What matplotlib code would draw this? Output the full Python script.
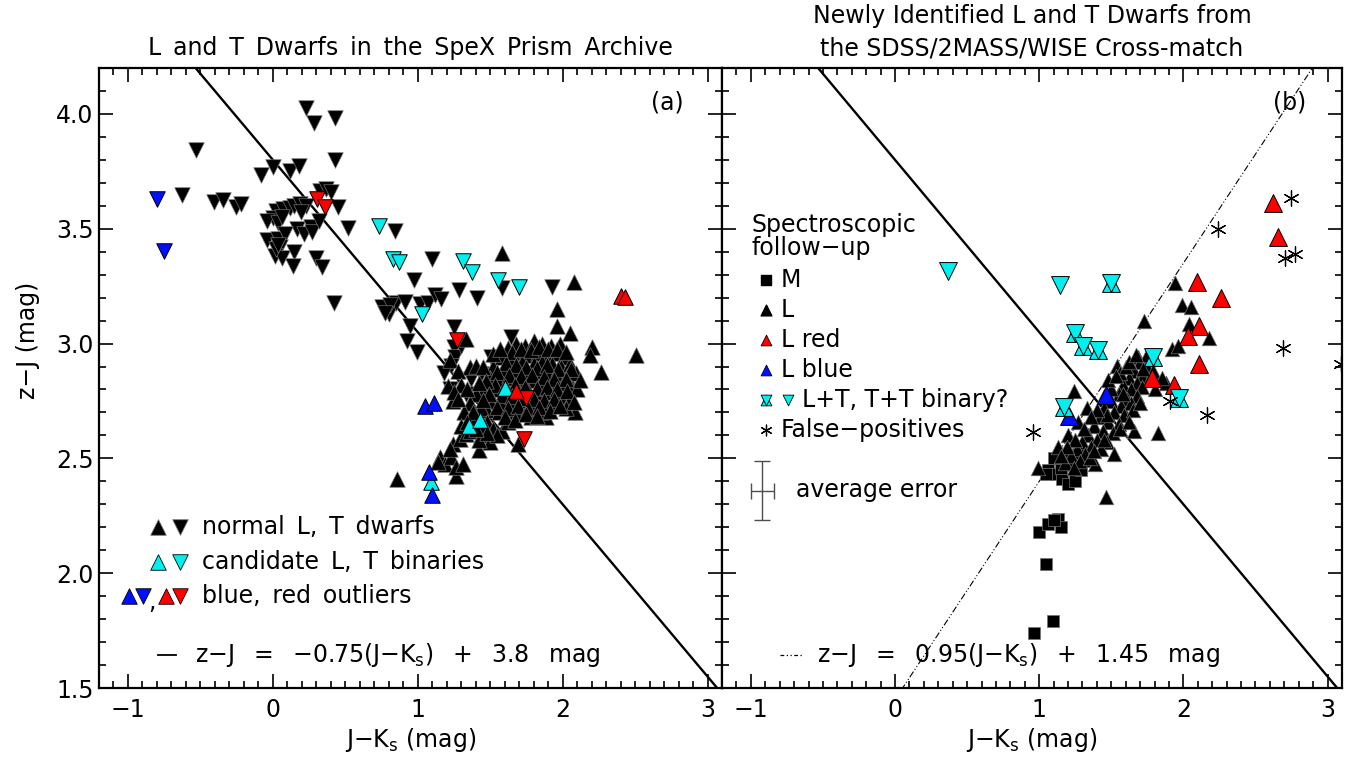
import numpy as np
import matplotlib
matplotlib.use("Agg")
import matplotlib.pyplot as plt
from matplotlib.ticker import MultipleLocator, FormatStrFormatter

plt.rcParams['font.family'] = ['DejaVu Sans']
plt.rcParams['axes.unicode_minus'] = True

# ---------------------------------------------------------------- panel (a)
# normal T dwarfs (down triangles)
a_T_x = [0.232, 0.285, 0.428, -0.531, 0.432, -0.08, 0.002, 0.12, 0.182, -0.628,
         -0.407, -0.343, -0.255, -0.22, 0.324, 0.366, 0.398, 0.448, 0.52, 0.844,
         0.025, 0.071, 0.117, 0.146, 0.186, 0.232, 0.193, 0.002, -0.037, 0.037,
         0.06, 0.168, 0.214, 0.26, 0.267, 0.32, -0.037, 0.037, 0.083, 0.048,
         0.014, 0.06, 0.145, 0.14, 0.30, 0.342, 0.025, 0.037,
         0.425, 0.75, 0.802, 0.853, 0.91, 0.807, 0.772, 1.014, 1.071, 1.117,
         1.163, 0.945, 0.926, 0.995, 1.248, 1.646, 1.101, 0.977, 1.584, 1.929,
         1.285, 1.412, 1.251, 1.26, 1.232, 1.37, 1.44, 1.508, 1.30, 1.18,
         1.33, 1.22]
a_T_y = [4.025, 3.962, 3.984, 3.843, 3.80, 3.735, 3.77, 3.752, 3.774, 3.648,
         3.617, 3.625, 3.593, 3.607, 3.665, 3.674, 3.658, 3.596, 3.503, 3.49,
         3.578, 3.585, 3.589, 3.60, 3.607, 3.60, 3.571, 3.545, 3.535, 3.525,
         3.55, 3.497, 3.478, 3.507, 3.485, 3.535, 3.451, 3.455, 3.478, 3.42,
         3.38, 3.373, 3.40, 3.339, 3.373, 3.335, 3.41, 3.43,
         3.175, 3.161, 3.13, 3.175, 3.183, 3.168, 3.135, 3.173, 3.176, 3.212,
         3.194, 3.078, 3.01, 2.962, 3.071, 3.027, 3.368, 3.277, 3.242, 3.248,
         3.233, 3.20, 2.984, 2.941, 2.904, 2.847, 2.868, 2.941, 2.99, 2.87,
         2.78, 2.80]

# normal L dwarfs (up triangles)
a_L_x = [1.581, 2.078, 1.961, 1.961, 2.053, 1.336, 2.205, 2.186, 2.508, 2.267,
         2.083, 1.887, 0.86, 1.266, 1.423, 1.692,
         1.152, 1.186, 1.232, 1.267, 1.313, 1.244, 1.29, 1.336, 1.221, 1.14,
         1.244, 1.209, 1.359, 1.405, 1.22, 1.28, 1.30, 1.25,
         1.62, 1.68, 1.74, 1.80, 1.86, 1.92, 1.98, 1.70, 1.77, 1.83,
         1.89, 1.95, 2.01, 1.58, 1.64, 1.72, 1.80, 1.86, 1.93, 1.99,
         2.05, 1.52, 1.60, 1.67, 1.75, 1.83, 1.90, 1.96, 2.03, 2.09,
         1.50, 1.57, 1.64, 1.71, 1.79, 1.86, 1.93, 2.00, 2.06, 1.55,
         1.62, 1.69, 1.77, 1.84, 1.91, 1.98, 2.05, 1.52, 1.59, 1.66,
         1.73, 1.81, 1.88, 1.95, 2.02, 1.48, 1.56, 1.63, 1.70, 1.78,
         1.85, 2.10, 2.12, 1.46, 1.45,
         1.40, 1.36, 1.44, 1.32, 1.40, 1.48, 1.36, 1.44, 1.52, 1.30,
         1.58, 1.50, 1.62, 1.34, 1.28,
         1.65, 1.71, 1.78, 1.84, 1.90, 1.96, 2.02, 1.61, 1.68, 1.75,
         1.82, 1.89, 1.97, 2.06, 1.55, 1.63, 1.71, 1.79, 1.87, 1.94,
         2.02, 1.53, 1.60, 1.67, 1.74, 1.82, 1.89, 1.96, 2.03, 1.58,
         1.65, 1.72, 1.80, 1.87, 1.94, 1.55, 1.62, 1.69, 1.76, 1.84,
         1.91, 1.60, 1.67, 1.75, 1.82, 1.98, 2.08, 1.47, 1.49, 1.45,
         1.42, 1.52, 1.57,
         1.38, 1.46, 1.42, 1.34, 1.55, 1.48, 1.40]
a_L_y = [3.394, 3.267, 3.151, 3.078, 3.045, 3.02, 2.987, 2.948, 2.948, 2.875,
         2.701, 2.68, 2.41, 2.422, 2.535, 2.564,
         2.506, 2.477, 2.506, 2.462, 2.477, 2.564, 2.586, 2.607, 2.542, 2.484,
         2.752, 2.817, 2.897, 2.904, 2.93, 2.88, 2.82, 2.79,
         2.98, 3.00, 2.99, 3.01, 3.00, 2.99, 3.00, 2.96, 2.95, 2.96,
         2.95, 2.96, 2.94, 2.94, 2.93, 2.92, 2.91, 2.92, 2.91, 2.90,
         2.91, 2.90, 2.89, 2.88, 2.87, 2.88, 2.87, 2.86, 2.86, 2.87,
         2.85, 2.84, 2.85, 2.83, 2.84, 2.83, 2.82, 2.83, 2.81, 2.80,
         2.79, 2.80, 2.79, 2.78, 2.79, 2.77, 2.76, 2.75, 2.74, 2.75,
         2.73, 2.74, 2.72, 2.74, 2.72, 2.71, 2.70, 2.69, 2.70, 2.68,
         2.70, 2.80, 2.84, 2.80, 2.90,
         2.78, 2.74, 2.72, 2.70, 2.68, 2.66, 2.62, 2.60, 2.63, 2.64,
         2.62, 2.57, 2.66, 2.80, 2.76,
         2.965, 2.975, 2.97, 2.985, 2.975, 2.975, 2.965, 2.915, 2.905, 2.90,
         2.895, 2.905, 2.89, 2.89, 2.875, 2.865, 2.86, 2.865, 2.855, 2.845,
         2.845, 2.82, 2.815, 2.82, 2.81, 2.805, 2.81, 2.80, 2.795, 2.775,
         2.77, 2.765, 2.76, 2.755, 2.76, 2.725, 2.72, 2.73, 2.72, 2.725,
         2.705, 2.68, 2.665, 2.695, 2.685, 2.73, 2.745, 2.835, 2.78, 2.755,
         2.83, 2.955, 2.975,
         2.70, 2.64, 2.58, 2.66, 2.60, 2.61, 2.63]

# candidate binaries
a_binL_x = [1.605, 1.354, 1.428, 1.094]
a_binL_y = [2.807, 2.643, 2.665, 2.397]
a_binT_x = [0.733, 0.83, 0.87, 1.313, 1.372, 1.554, 1.697, 1.032]
a_binT_y = [3.513, 3.37, 3.355, 3.361, 3.313, 3.277, 3.248, 3.13]

# outliers
a_blueL_x = [1.048, 1.11, 1.079, 1.099]
a_blueL_y = [2.726, 2.74, 2.44, 2.339]
a_blueT_x = [-0.80, -0.752]
a_blueT_y = [3.629, 3.404]
a_redL_x = [2.405, 2.428, 1.676]
a_redL_y = [3.209, 3.204, 2.793]
a_redT_x = [0.306, 0.359, 1.271, 1.749, 1.734]
a_redT_y = [3.629, 3.593, 3.016, 2.762, 2.586]

# ---------------------------------------------------------------- panel (b)
b_M_x = [1.061, 1.12, 1.16, 1.20, 1.25, 1.29, 1.31, 1.27, 1.18, 1.22,
         1.15, 1.10, 1.05, 1.00, 1.061, 1.13, 1.154, 1.10, 1.049, 1.093, 0.961]
b_M_y = [2.448, 2.43, 2.41, 2.39, 2.40, 2.45, 2.49, 2.52, 2.51, 2.47,
         2.46, 2.50, 2.43, 2.18, 2.216, 2.238, 2.201, 2.23, 2.04, 1.793, 1.738]

b_L_x = [1.941, 1.993, 2.052, 1.726, 2.04, 2.181, 1.922, 1.963, 1.241, 1.823,
         1.538, 1.682, 1.88, 0.991, 1.46, 1.39,
         1.70, 1.75, 1.66, 1.72, 1.79, 1.62, 1.68, 1.76, 1.58, 1.64,
         1.71, 1.55, 1.61, 1.68, 1.50, 1.57, 1.64, 1.45, 1.52, 1.59,
         1.42, 1.48, 1.55, 1.38, 1.44, 1.51, 1.34, 1.40, 1.47, 1.30,
         1.36, 1.43, 1.26, 1.32, 1.22, 1.28, 1.35, 1.18, 1.24, 1.50,
         1.45, 1.80, 1.75, 1.56, 1.33, 1.27, 1.20, 1.60, 1.85, 1.52,
         1.13, 1.66,
         1.48, 1.53, 1.62, 1.67, 1.72, 1.58, 1.65, 1.70, 1.47, 1.40,
         1.36, 1.31, 1.25, 1.19, 1.15, 1.56, 1.62, 1.45, 1.38]
b_L_y = [3.265, 3.17, 3.16, 3.098, 3.085, 3.025, 2.976, 2.988, 2.793, 2.611,
         2.903, 2.943, 2.83, 2.459, 2.332, 2.477,
         2.92, 2.90, 2.88, 2.86, 2.88, 2.85, 2.83, 2.84, 2.82, 2.80,
         2.81, 2.78, 2.76, 2.77, 2.75, 2.73, 2.74, 2.72, 2.70, 2.69,
         2.68, 2.66, 2.65, 2.64, 2.62, 2.61, 2.60, 2.58, 2.57, 2.57,
         2.55, 2.54, 2.54, 2.52, 2.51, 2.49, 2.50, 2.48, 2.46, 2.80,
         2.77, 2.80, 2.95, 2.87, 2.72, 2.66, 2.60, 2.90, 2.85, 2.52,
         2.55, 2.62,
         2.84, 2.86, 2.92, 2.95, 2.89, 2.78, 2.71, 2.74, 2.69, 2.71,
         2.68, 2.63, 2.58, 2.55, 2.51, 2.63, 2.66, 2.58, 2.53]

b_redL_x = [2.092, 2.263, 2.619, 2.659, 2.11, 2.033, 2.11, 1.782, 1.935]
b_redL_y = [3.27, 3.20, 3.61, 3.464, 3.076, 3.035, 2.913, 2.85, 2.82]
b_blueL_x = [1.461, 1.205]
b_blueL_y = [2.776, 2.683]
b_binLT_x = [1.499, 1.248, 1.306, 1.405, 1.792, 1.97, 1.173]
b_binLT_y = [3.265, 3.047, 2.988, 2.972, 2.94, 2.761, 2.725]
b_binTT_x = [1.147, 0.364]
b_binTT_y = [3.254, 3.317]
b_false_x = [2.748, 2.237, 2.706, 2.772, 2.69, 3.092, 1.909, 2.162, 0.959]
b_false_y = [3.635, 3.50, 3.372, 3.39, 2.98, 2.91, 2.75, 2.687, 2.613]

# average photometric error shown in panel (b)
avg_err_pos = (-0.92, 2.36)
avg_err_x = 0.08
avg_err_y = 0.13

# colour cuts
cut1_slope, cut1_icpt = -0.75, 3.8
cut2_slope, cut2_icpt = 0.95, 1.45

XLIM = (-1.2, 3.1)
YLIM = (1.5, 4.2)

BLUE = '#0010ff'
RED = '#ff0000'
CYAN = '#00f0f0'
FS = 17
SP = '\u2002'          # wider word gap
GAP = ' \u2002'        # gap between equation terms

fig = plt.figure(figsize=(13.64, 7.67), dpi=100)
W, H = 1364.0, 767.0
axA = fig.add_axes([99 / W, 79 / H, 623 / W, 620 / H])
axB = fig.add_axes([722 / W, 79 / H, 620 / W, 620 / H])


def style(ax, ylabels=True):
    ax.set_xlim(*XLIM)
    ax.set_ylim(*YLIM)
    ax.xaxis.set_major_locator(MultipleLocator(1))
    ax.xaxis.set_minor_locator(MultipleLocator(0.1))
    ax.yaxis.set_major_locator(MultipleLocator(0.5))
    ax.yaxis.set_minor_locator(MultipleLocator(0.1))
    ax.yaxis.set_major_formatter(FormatStrFormatter('%.1f'))
    ax.tick_params(which='both', direction='in', top=True, right=True,
                   width=1.2, labelsize=FS)
    ax.tick_params(which='major', length=10)
    ax.tick_params(which='minor', length=5)
    ax.tick_params(axis='x', which='both', pad=7)
    ax.tick_params(axis='y', which='both', pad=4)
    for s in ax.spines.values():
        s.set_linewidth(1.6)
    if not ylabels:
        ax.tick_params(labelleft=False)
    ax.set_xlabel('J−K$_\\mathregular{s}$ (mag)', fontsize=FS, labelpad=3)


def tri(ax, x, y, up, color, s=125, ec='k', lw=0.7, z=3):
    ax.scatter(x, y, marker='^' if up else 'v', s=s, c=color,
               edgecolors=ec, linewidths=lw, zorder=z)


style(axA)
style(axB, ylabels=False)
axA.set_ylabel('z−J (mag)', fontsize=FS)
axA.yaxis.set_label_coords(-0.095, 0.56)

xx = np.array(XLIM)

# ---------------- panel (a)
axA.plot(xx, cut1_slope * xx + cut1_icpt, color='k', lw=1.7, zorder=2)
tri(axA, a_T_x, a_T_y, False, 'k', ec='0.45', lw=0.5)
tri(axA, a_L_x, a_L_y, True, 'k', ec='0.45', lw=0.5)
tri(axA, a_binT_x, a_binT_y, False, CYAN, z=4)
tri(axA, a_binL_x, a_binL_y, True, CYAN, z=4)
tri(axA, a_blueT_x, a_blueT_y, False, BLUE, z=4)
tri(axA, a_blueL_x, a_blueL_y, True, BLUE, z=4)
tri(axA, a_redT_x, a_redT_y, False, RED, z=4)
tri(axA, a_redL_x, a_redL_y, True, RED, z=4)

axA.set_title(SP.join('L and T Dwarfs in the SpeX Prism Archive'.split()),
              fontsize=FS, pad=9)
axA.text(0.912, 0.944, '(a)', transform=axA.transAxes, fontsize=FS,
         ha='center', va='center')

ta = axA.transAxes
legA = [(0.26, [(0.095, True, 'k'), (0.13, False, 'k')], 'normal L, T dwarfs'),
        (0.203, [(0.095, True, CYAN), (0.13, False, CYAN)], 'candidate L, T binaries'),
        (0.148, [(0.0486, True, BLUE), (0.0711, False, BLUE),
                 (0.1075, True, RED), (0.13, False, RED)], 'blue, red outliers')]
for yy, marks, label in legA:
    for mx, up, col in marks:
        axA.scatter([mx], [yy], marker='^' if up else 'v', s=125, c=col,
                    edgecolors='k' if col != 'k' else '0.45', linewidths=0.6,
                    transform=ta, zorder=5, clip_on=False)
    axA.text(0.165, yy, SP.join(label.split()), transform=ta, fontsize=FS,
             va='center')
axA.text(0.0846, 0.158, ',', transform=ta, fontsize=FS, va='top', ha='center')
axA.plot([0.0947, 0.1236], [0.0532, 0.0532], color='k', lw=1.3, transform=ta)
eqA = GAP.join(['z−J', '=', '−0.75(J−K$_\\mathregular{s}$)', '+', '3.8', 'mag'])
axA.text(0.154, 0.0532, eqA, transform=ta, fontsize=FS, va='center')

# ---------------- panel (b)
axB.plot(xx, cut1_slope * xx + cut1_icpt, color='k', lw=1.7, zorder=2)
axB.plot(xx, cut2_slope * xx + cut2_icpt, color='k', lw=0.8,
         linestyle=(0, (6, 2, 1, 2, 1, 2)), zorder=2)
axB.scatter(b_M_x, b_M_y, marker='s', s=80, c='k', edgecolors='0.45',
            linewidths=0.5, zorder=3)
tri(axB, b_L_x, b_L_y, True, 'k', s=110, ec='0.45', lw=0.5)
tri(axB, b_redL_x, b_redL_y, True, RED, s=165, z=4)
tri(axB, b_blueL_x, b_blueL_y, True, BLUE, s=165, z=4)
tri(axB, b_binLT_x, b_binLT_y, True, CYAN, s=165, z=4)
tri(axB, b_binLT_x, b_binLT_y, False, CYAN, s=165, z=4)
tri(axB, b_binTT_x, b_binTT_y, False, CYAN, s=165, z=4)
axB.scatter(b_false_x, b_false_y, marker=(6, 2, 0), s=120, c='k',
            linewidths=0.9, zorder=5)
axB.errorbar([avg_err_pos[0]], [avg_err_pos[1]], xerr=[avg_err_x],
             yerr=[avg_err_y], fmt='none', ecolor='0.3', elinewidth=1.0,
             capsize=5.5, capthick=1.0, zorder=5)

axB.set_title('Newly Identified L and T Dwarfs from\nthe SDSS/2MASS/WISE Cross-match',
              fontsize=FS, pad=9, linespacing=1.45)
axB.text(0.916, 0.944, '(b)', transform=axB.transAxes, fontsize=FS,
         ha='center', va='center')

tb = axB.transAxes
axB.text(0.048, 0.747, 'Spectroscopic', transform=tb, fontsize=FS, va='center')
axB.text(0.048, 0.71, 'follow−up', transform=tb, fontsize=FS, va='center')
legB = [(0.658, 'M'), (0.61, 'L'), (0.561, 'L red'), (0.513, 'L blue'),
        (0.4645, 'L+T, T+T binary?'), (0.416, 'False−positives')]
mx = 0.071
axB.scatter([mx], [0.658], marker='s', s=50, c='k', transform=tb, zorder=5)
axB.scatter([mx], [0.61], marker='^', s=60, c='k', transform=tb, zorder=5)
axB.scatter([mx], [0.561], marker='^', s=60, c=RED, edgecolors='k',
            linewidths=0.6, transform=tb, zorder=5)
axB.scatter([mx], [0.513], marker='^', s=60, c=BLUE, edgecolors='k',
            linewidths=0.6, transform=tb, zorder=5)
for m in ('^', 'v'):
    axB.scatter([mx], [0.4645], marker=m, s=60, c=CYAN, edgecolors='k',
                linewidths=0.6, transform=tb, zorder=5)
axB.scatter([0.106], [0.4645], marker='v', s=60, c=CYAN, edgecolors='k',
            linewidths=0.6, transform=tb, zorder=5)
axB.scatter([mx], [0.416], marker=(6, 2, 0), s=60, c='k', linewidths=0.9,
            transform=tb, zorder=5)
for yy, label in legB:
    xt = 0.129 if 'binary' in label else 0.095
    axB.text(xt, yy, label, transform=tb, fontsize=FS, va='center')
axB.text(0.119, 0.319, 'average error', transform=tb, fontsize=FS, va='center')
axB.plot([0.0935, 0.129], [0.0532, 0.0532], color='k', lw=0.9,
         linestyle=(0, (3, 2, 1, 2, 1, 2)), transform=tb)
eqB = GAP.join(['z−J', '=', '0.95(J−K$_\\mathregular{s}$)', '+', '1.45', 'mag'])
axB.text(0.153, 0.0532, eqB, transform=tb, fontsize=FS, va='center')

fig.savefig('out.png', dpi=100)
